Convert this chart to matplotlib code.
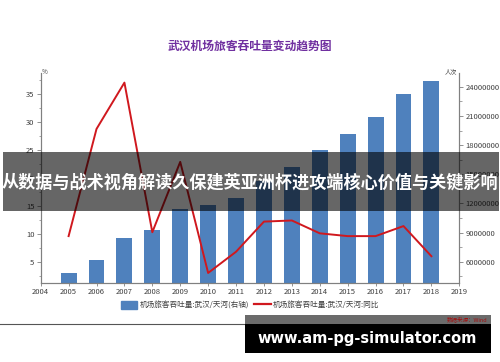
import matplotlib
matplotlib.use("Agg")
import matplotlib.pyplot as plt
from matplotlib.patches import Rectangle
from matplotlib.lines import Line2D
from matplotlib.ticker import MultipleLocator, FuncFormatter

plt.rcParams['font.family'] = ['Noto Sans CJK SC', 'DejaVu Sans']

years = [2005, 2006, 2007, 2008, 2009, 2010, 2011, 2012, 2013, 2014, 2015, 2016, 2017, 2018]
passengers = [4.80e6, 6.14e6, 8.45e6, 9.31e6, 11.45e6, 11.79e6, 12.59e6, 14.3e6,
              15.8e6, 17.5e6, 19.1e6, 20.9e6, 23.3e6, 24.6e6]
yoy = [9.6, 28.8, 37.1, 10.3, 22.9, 3.0, 6.8, 12.2, 12.4, 10.1, 9.6, 9.6, 11.4, 6.0]
year_ticks = list(range(2004, 2020))

bar_color = "#4f81bd"
line_color = "#d0181e"
txt = "#404040"
axis_c = "#808080"

fig = plt.figure(figsize=(5, 3.62), dpi=100)
ax = fig.add_axes([0.0814, 0.219, 0.8372, 0.579])
ax2 = ax.twinx()

ax2.bar(years, passengers, width=0.57, color=bar_color)
ax.plot(years, yoy, color=line_color, lw=1.4)
ax.set_zorder(ax2.get_zorder() + 1)
ax.patch.set_visible(False)

ax.set_xlim(2004, 2019)
ax.set_ylim(1.25, 38.8)
ax2.set_ylim(3.83e6, 25.42e6)

ax.set_xticks(year_ticks)
ax.yaxis.set_major_locator(MultipleLocator(5))
ax.yaxis.set_minor_locator(MultipleLocator(2.5))
ax2.yaxis.set_major_locator(MultipleLocator(3e6))
ax2.yaxis.set_minor_locator(MultipleLocator(1.5e6))
ax2.yaxis.set_major_formatter(FuncFormatter(lambda v, p: f"{int(round(v))}"))
ax.set_yticks([5, 10, 15, 20, 25, 30, 35])

for a in (ax, ax2):
    a.tick_params(labelsize=5.5, colors=txt, length=3, width=0.6, pad=1.5)
    a.tick_params(which="minor", length=1.8, width=0.5, colors=axis_c)
    a.tick_params(axis="both", color=axis_c)
    for s in a.spines.values():
        s.set_color(axis_c)
        s.set_linewidth(0.8)
    a.spines["top"].set_visible(False)
ax.tick_params(axis="x", length=2)

fig.text(0.084, 0.80, "%", fontsize=4.5, color=txt, ha="left", va="center")
fig.text(0.915, 0.80, "人次", fontsize=4.5, color=txt, ha="right", va="center")

fig.text(0.5, 0.873, "武汉机场旅客吞吐量变动趋势图", fontsize=8.5, fontweight="bold",
         color="#7030a0", ha="center", va="center")

handles = [Rectangle((0, 0), 1, 1, color=bar_color),
           Line2D([0], [0], color=line_color, lw=1.6)]
fig.legend(handles, ["机场旅客吞吐量:武汉/天河(右轴)", "机场旅客吞吐量:武汉/天河:同比"],
           loc="center", bbox_to_anchor=(0.5, 0.157), ncol=2, frameon=False,
           fontsize=5.5, labelcolor=txt, handlelength=2.2, handleheight=1.2,
           columnspacing=0.6, handletextpad=0.3)

# banner overlay
fig.patches.append(Rectangle((0.006, 0.417), 0.992, 0.163, transform=fig.transFigure,
                             facecolor="black", alpha=0.6, edgecolor="none", zorder=5))
fig.text(0.5, 0.497, "从数据与战术视角解读久保建英亚洲杯进攻端核心价值与关键影响",
         fontsize=12.3, fontweight="bold", color="white", ha="center", va="center", zorder=6)

# bottom frame and watermark
fig.lines.append(Line2D([0, 0.49], [1 - 324 / 362] * 2, transform=fig.transFigure,
                        color="#555555", lw=0.8))
fig.patches.append(Rectangle((0.49, 1 - 324 / 362), 0.492, 9 / 362, transform=fig.transFigure,
                             facecolor="#6b6b6b", edgecolor="none", zorder=5))
fig.text(0.975, 1 - 319.5 / 362, "数据来源：Wind", fontsize=4, color="#a01010",
         style="italic", ha="right", va="center", zorder=6)
fig.patches.append(Rectangle((0.49, 1 - 353 / 362), 0.492, 29 / 362, transform=fig.transFigure,
                             facecolor="black", edgecolor="none", zorder=5))
fig.text(0.734, 1 - 338.5 / 362, "www.am-pg-simulator.com", fontsize=10.5, fontweight="bold",
         color="white", ha="center", va="center", family="DejaVu Sans", zorder=6)

fig.savefig("out.png", dpi=100)
